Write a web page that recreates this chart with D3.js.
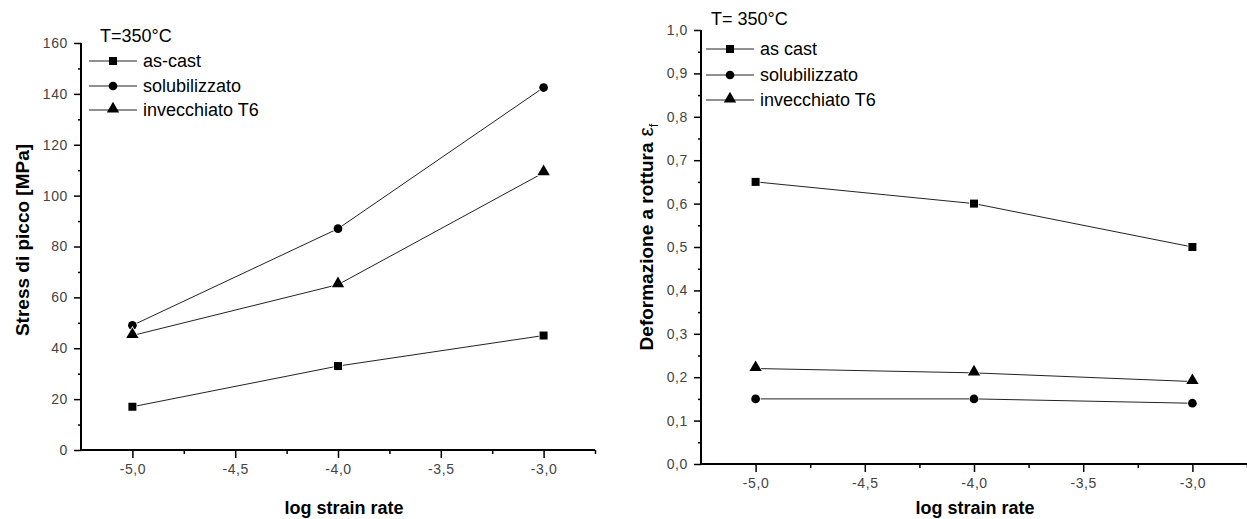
<!DOCTYPE html>
<html><head><meta charset="utf-8">
<script src="https://cdn.jsdelivr.net/npm/d3@7"></script>
<style>body{margin:0;background:#fff;} svg{display:block;font-family:"Liberation Sans",Arial,sans-serif;}</style>
</head><body>
<svg id="c" width="1247" height="519"></svg>
<script>
const xValues = [-5.0, -4.0, -3.0];
const seriesNames = ["as-cast", "solubilizzato", "invecchiato T6"];
const seriesNamesRight = ["as cast", "solubilizzato", "invecchiato T6"];
const symbols = ["square", "circle", "triangle"];
const stressAsCast = [17, 33, 45];
const stressSolub = [49, 87, 142.5];
const stressT6 = [45, 65, 109];
const strainAsCast = [0.65, 0.60, 0.50];
const strainSolub = [0.15, 0.15, 0.14];
const strainT6 = [0.22, 0.21, 0.19];
const xTicks = [-5.0, -4.5, -4.0, -3.5, -3.0];
const leftYTicks = [0, 20, 40, 60, 80, 100, 120, 140, 160];
const rightYTicks = [0, 0.1, 0.2, 0.3, 0.4, 0.5, 0.6, 0.7, 0.8, 0.9, 1.0];

const svg = d3.select("#c");
const fmt1 = d => d3.format(".1f")(d).replace(".", ",").replace("−","-");

function markerPath(type) {
  if (type === "square") return d3.symbol(d3.symbolSquare, 64)();
  if (type === "circle") return d3.symbol(d3.symbolCircle, 60)();
  return d3.symbol(d3.symbolTriangle, 66)();
}

function panel(cfg) {
  const g = svg.append("g");
  const x = d3.scaleLinear().domain([-5.25, -2.75]).range([cfg.x0, cfg.x1]);
  const y = d3.scaleLinear().domain(cfg.yDomain).range([cfg.y0, cfg.y1]);

  const line = d3.line().x((d, i) => x(xValues[i])).y(d => y(d));
  cfg.series.forEach((s, k) => {
    g.append("path").attr("d", line(s)).attr("fill", "none").attr("stroke", "#222").attr("stroke-width", 1);
    s.forEach((v, i) => {
      const dy = symbols[k] === "triangle" ? -1 : 0;
      g.append("path").attr("d", markerPath(symbols[k]))
        .attr("transform", `translate(${x(xValues[i])},${y(v) + dy})`)
        .attr("fill", "#000").attr("stroke", "#fff").attr("stroke-width", 1.5).attr("paint-order", "stroke");
    });
  });

  g.append("g").attr("transform", `translate(0,${cfg.y0})`)
    .call(d3.axisBottom(x).tickValues(xTicks).tickSize(8).tickPadding(6).tickFormat(fmt1));
  g.append("g").attr("transform", `translate(0,${cfg.y0})`)
    .call(d3.axisBottom(x).tickValues([-4.75, -4.25, -3.75, -3.25, -2.75]).tickSize(4).tickFormat(""));
  g.append("g").attr("transform", `translate(${cfg.x0},0)`)
    .call(d3.axisLeft(y).tickValues(cfg.yTicks).tickSize(7).tickPadding(6).tickFormat(cfg.yFmt));
  g.append("g").attr("transform", `translate(${cfg.x0},0)`)
    .call(d3.axisLeft(y).tickValues(cfg.yMinor).tickSize(3).tickFormat(""));
  g.selectAll(".domain").remove();
  g.selectAll(".tick line").attr("stroke", "#000").attr("stroke-width", 1.5);
  g.selectAll(".tick text").attr("fill", "#444")
    .attr("font-family", "'Liberation Sans',Arial,sans-serif").attr("font-size", 14)
    .style("font-size", "14px").style("letter-spacing", "0.6px");
  g.append("line").attr("x1", cfg.x0).attr("x2", cfg.x1).attr("y1", cfg.y0).attr("y2", cfg.y0).attr("stroke", "#000").attr("stroke-width", 2);
  g.append("line").attr("x1", cfg.x0).attr("x2", cfg.x0).attr("y1", cfg.y0 + 1).attr("y2", cfg.y1).attr("stroke", "#000").attr("stroke-width", 2);

  g.append("text").attr("x", cfg.xTitleX).attr("y", 514).attr("text-anchor", "middle")
    .style("font-weight", "bold").style("font-size", "18px").attr("fill", "#000").text("log strain rate");
  const yt = g.append("text").attr("transform", `translate(${cfg.yTitleX},${cfg.yTitleY}) rotate(-90)`)
    .attr("text-anchor", "middle").style("font-weight", "bold").style("font-size", "19px").attr("fill", "#000");
  yt.append("tspan").text(cfg.yTitle);
  if (cfg.yTitleSub) {
    yt.append("tspan").style("font-weight", "normal").style("font-size", "21px").text(" ε");
    yt.append("tspan").attr("dy", 5).style("font-size", "13px").style("font-weight", "normal").text("f");
  }

  const lg = g.append("g");
  lg.append("text").attr("x", cfg.legX).attr("y", cfg.legTitleY + 6).style("font-size", "18px").attr("fill", "#000").text(cfg.legTitle);
  cfg.names.forEach((n, k) => {
    const ry = cfg.legRows[k];
    lg.append("line").attr("x1", cfg.legLine0).attr("x2", cfg.legLine0 + 48).attr("y1", ry).attr("y2", ry).attr("stroke", "#222").attr("stroke-width", 1);
    lg.append("path").attr("d", markerPath(symbols[k])).attr("transform", `translate(${cfg.legLine0 + 24},${ry + (symbols[k] === "triangle" ? -1 : 0)})`).attr("fill", "#000");
    lg.append("text").attr("x", cfg.legLine0 + 54).attr("y", ry + 6).style("font-size", "18px").attr("fill", "#000").text(n);
  });
}

panel({
  x0: 81, x1: 595, y0: 450, y1: 43, yDomain: [0, 160],
  yTicks: leftYTicks, yMinor: d3.range(10, 160, 20), yFmt: d3.format("d"),
  series: [stressAsCast, stressSolub, stressT6],
  xTitleX: 344, yTitleX: 29, yTitleY: 240, yTitle: "Stress di picco [MPa]",
  legX: 100, legTitleY: 36, legLine0: 89, legRows: [61, 86, 110], legTitle: "T=350°C", names: seriesNames
});
panel({
  x0: 701, x1: 1247, y0: 464, y1: 30, yDomain: [0, 1.0],
  yTicks: rightYTicks, yMinor: d3.range(0.05, 1.0, 0.1), yFmt: fmt1,
  series: [strainAsCast, strainSolub, strainT6],
  xTitleX: 975, yTitleX: 653, yTitleY: 237, yTitle: "Deformazione a rottura", yTitleSub: true,
  legX: 711, legTitleY: 19, legLine0: 706, legRows: [49, 75, 100], legTitle: "T= 350°C", names: seriesNamesRight
});
</script>
</body></html>
